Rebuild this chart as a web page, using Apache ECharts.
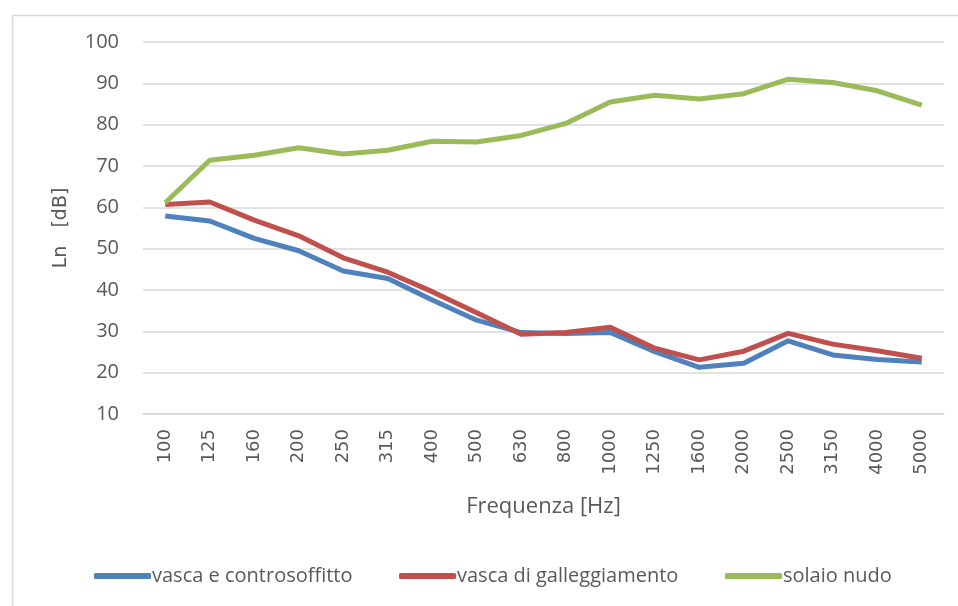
<!DOCTYPE html>
<html>
<head>
<meta charset="utf-8">
<script src="https://cdn.jsdelivr.net/npm/echarts@6/dist/echarts.min.js"></script>
<style>
html,body{margin:0;padding:0;background:#fff;}
#c{width:958px;height:606px;}
</style>
</head>
<body>
<div id="c"></div>
<script>
var categories = ['100','125','160','200','250','315','400','500','630','800','1000','1250','1600','2000','2500','3150','4000','5000'];
var vascaControsoffitto = [57.9,56.7,52.5,49.5,44.6,42.8,37.6,32.7,29.7,29.5,29.7,25.1,21.3,22.3,27.7,24.3,23.2,22.6];
var vascaGalleggiamento = [60.7,61.3,56.9,53.1,47.8,44.3,39.6,34.5,29.3,29.7,31.0,25.9,23.1,25.2,29.5,26.9,25.3,23.5];
var solaioNudo = [61.1,71.4,72.6,74.4,72.9,73.8,76.0,75.8,77.4,80.3,85.5,87.1,86.2,87.5,91.0,90.2,88.2,84.7];
var seriesNames = ['vasca e controsoffitto','vasca di galleggiamento','solaio nudo'];
var yTicks = {min:10, max:100, interval:10};

var textColor = '#595959';
var chart = echarts.init(document.getElementById('c'), null, {renderer:'canvas'});
function legendAt(name, left){
  return {
    data:[name], left:left, top:561, icon:'roundRect', itemWidth:57, itemHeight:6,
    textStyle:{fontFamily:'Open Sans', fontSize:20, color:textColor, padding:[0,0,0,-4]}
  };
}
chart.setOption({
  animation:false,
  color:['#4F81BD','#C0504D','#9BBB59'],
  graphic:[{type:'rect', left:10, top:13, shape:{width:1000, height:700}, style:{fill:'none', stroke:'#D9D9D9', lineWidth:1.5}, silent:true}],
  grid:{left:143, right:14, top:42, bottom:192},
  legend:[legendAt(seriesNames[0],89), legendAt(seriesNames[1],394), legendAt(seriesNames[2],720)],
  xAxis:{
    type:'category', data:categories, boundaryGap:true,
    name:'Frequenza [Hz]', nameLocation:'middle', nameGap:82,
    nameTextStyle:{fontFamily:'Open Sans', fontSize:22, color:textColor},
    axisLine:{show:true, lineStyle:{color:'#D9D9D9', width:1.5}},
    axisTick:{show:false},
    axisLabel:{rotate:90, margin:15, fontFamily:'DejaVu Sans', fontSize:18, color:textColor, interval:0}
  },
  yAxis:{
    type:'value', min:yTicks.min, max:yTicks.max, interval:yTicks.interval,
    name:'Ln   [dB]', nameLocation:'middle', nameGap:72, nameRotate:90,
    nameTextStyle:{fontFamily:'DejaVu Sans', fontSize:19, color:textColor},
    axisLine:{show:false}, axisTick:{show:false},
    axisLabel:{margin:24, fontFamily:'Open Sans', fontSize:20, color:textColor},
    splitLine:{lineStyle:{color:'#D9D9D9', width:1.5}}
  },
  series:[
    {name:seriesNames[0], type:'line', data:vascaControsoffitto, symbol:'none', lineStyle:{width:5}, z:3},
    {name:seriesNames[1], type:'line', data:vascaGalleggiamento, symbol:'none', lineStyle:{width:5}, z:4},
    {name:seriesNames[2], type:'line', data:solaioNudo, symbol:'none', lineStyle:{width:5}, z:5}
  ]
});
</script>
</body>
</html>
